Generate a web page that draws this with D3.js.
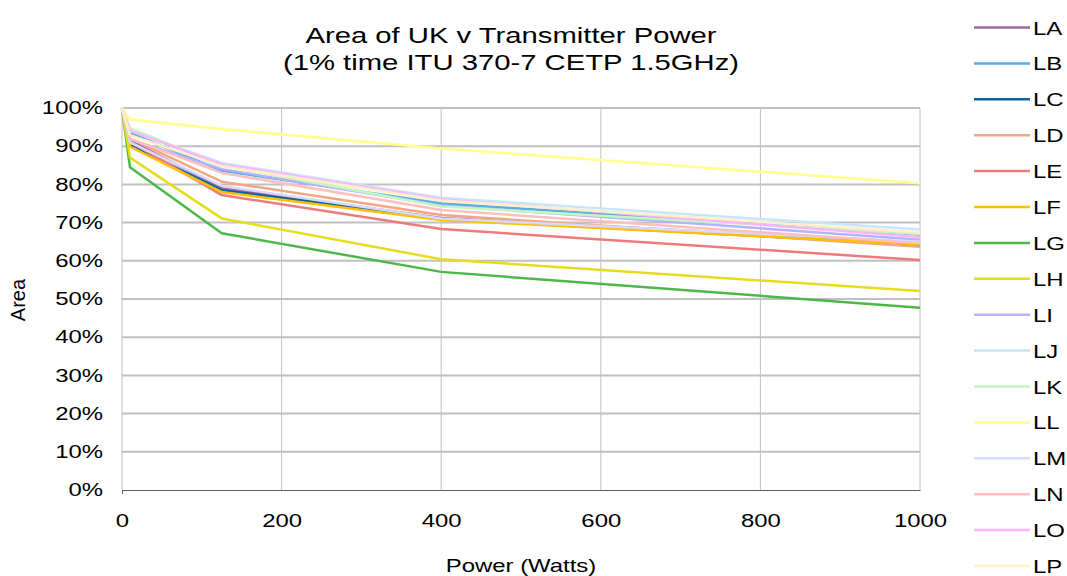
<!DOCTYPE html>
<html>
<head>
<meta charset="utf-8">
<script src="https://cdn.jsdelivr.net/npm/d3@7"></script>
<style>
  body { margin: 0; background: #fff; }
  text { font-family: "Liberation Sans", Arial, sans-serif; fill: #000; }
</style>
</head>
<body>
<svg id="graf"></svg>
<script>
// power steps (watts)
let potencias = [0, 10, 125, 400, 1000]

let series = ['LA', 'LB', 'LC', 'LD', 'LE', 'LF', 'LG', 'LH', 'LI', 'LJ', 'LK', 'LL', 'LM', 'LN', 'LO', 'LP']

let valLA = [1, 0.915, 0.79, 0.712, 0.648]
let valLB = [1, 0.935, 0.836, 0.750, 0.668]
let valLC = [1, 0.903, 0.785, 0.710, 0.642]
let valLD = [1, 0.920, 0.807, 0.720, 0.637]
let valLE = [1, 0.912, 0.772, 0.683, 0.602]
let valLF = [1, 0.899, 0.780, 0.707, 0.643]
let valLG = [1, 0.845, 0.672, 0.571, 0.477]
let valLH = [1, 0.870, 0.711, 0.604, 0.521]
let valLI = [1, 0.918, 0.840, 0.745, 0.655]
let valLJ = [1, 0.940, 0.856, 0.765, 0.682]
let valLK = [1, 0.947, 0.850, 0.742, 0.670]
let valLL = [1, 0.970, 0.945, 0.894, 0.803]
let valLM = [1, 0.910, 0.796, 0.711, 0.650]
let valLN = [1, 0.920, 0.830, 0.733, 0.646]
let valLO = [1, 0.940, 0.853, 0.761, 0.662]
let valLP = [1, 0.929, 0.848, 0.758, 0.674]

let xTicks = [0, 200, 400, 600, 800, 1000]
let yTicks = [0, 0.1, 0.2, 0.3, 0.4, 0.5, 0.6, 0.7, 0.8, 0.9, 1]

let colores = ['#a0679f', '#5aaee0', '#0b64a0', '#f0a880', '#ee7b7b', '#ffc000', '#4db848', '#e6dc1e',
               '#b3b3ff', '#c6e6ff', '#c6f5c0', '#ffff8c', '#d9d9ff', '#ffbfbf', '#ffb3ff', '#fff0c6']

function graficar() {
  let width = 1067
  let height = 576
  let estira = 1.33   // text in the original is stretched sideways
  let valores = [valLA, valLB, valLC, valLD, valLE, valLF, valLG, valLH,
                 valLI, valLJ, valLK, valLL, valLM, valLN, valLO, valLP]
  let datos = series.map((s, i) => ({
    nombre: s,
    puntos: potencias.map((p, j) => ({ x: p, y: valores[i][j] }))
  }))

  let color = d3.scaleOrdinal().domain(series).range(colores)
  let x = d3.scaleLinear().domain([0, 1000]).range([122, 920])
  let y = d3.scaleLinear().domain([0, 1]).range([490, 108])

  let svg = d3.select('#graf')
            .attr('width', width)
            .attr('height', height)

  function texto(px, py, cadena, size, anchor) {
    return svg.append('text')
      .attr('transform', `translate(${px}, ${py}) scale(${estira}, 1)`)
      .attr('text-anchor', anchor || 'middle')
      .style('font-size', size + 'px')
      .text(cadena)
  }

  // gridlines
  svg.append('g')
    .selectAll('line')
    .data(yTicks.slice(1))
    .enter().append('line')
    .attr('x1', x(0)).attr('x2', x(1000))
    .attr('y1', d => y(d)).attr('y2', d => y(d))
    .attr('stroke', '#c0c0c0')
    .attr('stroke-width', 2)

  svg.append('g')
    .selectAll('line')
    .data(xTicks)
    .enter().append('line')
    .attr('x1', d => x(d)).attr('x2', d => x(d))
    .attr('y1', y(0)).attr('y2', y(1))
    .attr('stroke', '#c0c0c0')
    .attr('stroke-width', 1)

  // axes
  let ejeX = svg.append('g')
    .attr('transform', `translate(0, ${y(0)})`)
    .call(d3.axisBottom(x).tickValues(xTicks).tickFormat(d3.format('d')).tickSize(4).tickSizeOuter(0).tickPadding(20))
  ejeX.select('.domain').attr('stroke', '#606060')
  ejeX.selectAll('.tick line').attr('stroke', '#606060').filter(d => d !== 0).remove()
  ejeX.selectAll('text').style('font-size', '18px')
    .attr('transform', `scale(${estira}, 1)`)

  let ejeY = svg.append('g')
    .attr('transform', `translate(${x(0)}, 0)`)
    .call(d3.axisLeft(y).tickValues(yTicks).tickFormat(d3.format('.0%')).tickSize(0).tickSizeOuter(0))
  ejeY.select('.domain').remove()
  ejeY.selectAll('text').style('font-size', '18px')
    .attr('x', -19 / estira)
    .attr('transform', `scale(${estira}, 1)`)

  // lines
  let linea = d3.line().x(d => x(d.x)).y(d => y(d.y))
  svg.append('g')
    .selectAll('path')
    .data(datos)
    .enter().append('path')
    .attr('d', d => linea(d.puntos))
    .attr('fill', 'none')
    .attr('stroke', d => color(d.nombre))
    .attr('stroke-width', 2.5)
    .attr('stroke-linejoin', 'round')

  // titles
  texto(511, 43, 'Area of UK v Transmitter Power', 22)
  texto(511, 70, '(1% time ITU 370-7 CETP 1.5GHz)', 22)
  texto(521, 572, 'Power (Watts)', 18)
  svg.append('text').attr('transform', 'translate(25, 300) rotate(-90)').attr('text-anchor', 'middle')
    .style('font-size', '20px').text('Area')

  // legend
  let ley = svg.append('g')
    .selectAll('g')
    .data(series)
    .enter().append('g')
    .attr('transform', (d, i) => `translate(974, ${27.5 + i * 35.9})`)
  ley.append('line')
    .attr('x1', 0).attr('x2', 56).attr('y1', 0).attr('y2', 0)
    .attr('stroke', d => color(d)).attr('stroke-width', 2.5)
  ley.append('text')
    .attr('transform', `translate(59, 7) scale(${estira}, 1)`)
    .style('font-size', '18px')
    .text(d => d)
}

graficar()
</script>
</body>
</html>
